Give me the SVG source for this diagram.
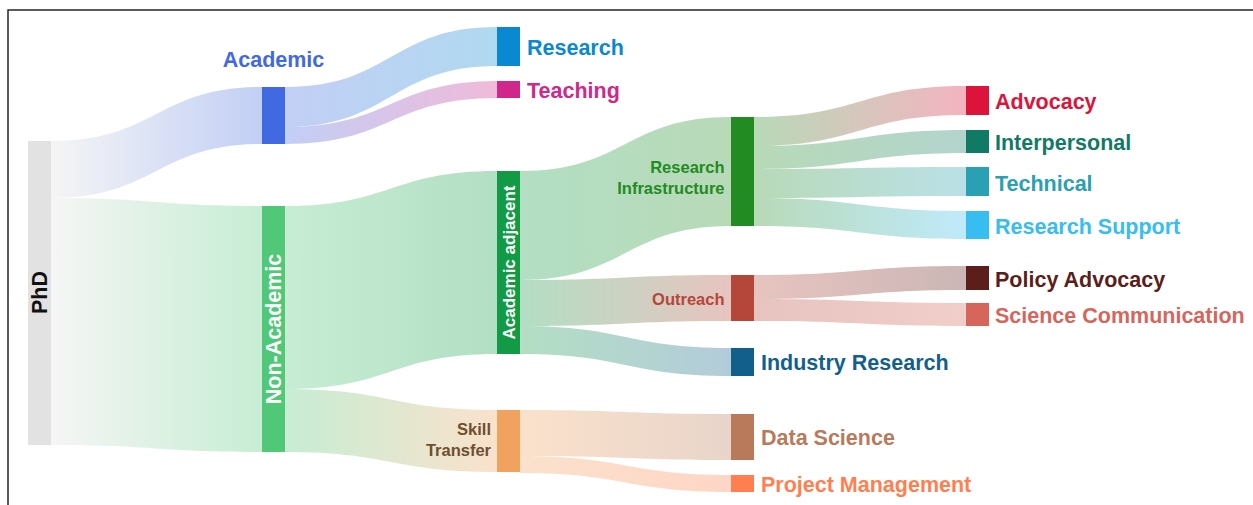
<svg xmlns="http://www.w3.org/2000/svg" width="1253" height="505" viewBox="0 0 1253 505">
<style>
.lbl{font-family:"Liberation Sans",Arial,Helvetica,sans-serif;font-weight:bold;}
.big{font-size:21.5px;}
.mid{font-size:16.5px;}
.link{fill-opacity:0.32;stroke:none;}
</style>
<defs>
<linearGradient id="g1" gradientUnits="userSpaceOnUse" x1="51" y1="0" x2="262" y2="0"><stop offset="0" stop-color="#e0e0e0"/><stop offset="1" stop-color="#4169e1"/></linearGradient>
<linearGradient id="g2" gradientUnits="userSpaceOnUse" x1="51" y1="0" x2="262" y2="0"><stop offset="0" stop-color="#e0e0e0"/><stop offset="1" stop-color="#50c878"/></linearGradient>
<linearGradient id="g3" gradientUnits="userSpaceOnUse" x1="285" y1="0" x2="497" y2="0"><stop offset="0" stop-color="#4169e1"/><stop offset="1" stop-color="#0a88d0"/></linearGradient>
<linearGradient id="g4" gradientUnits="userSpaceOnUse" x1="285" y1="0" x2="497" y2="0"><stop offset="0" stop-color="#4169e1"/><stop offset="1" stop-color="#d0288a"/></linearGradient>
<linearGradient id="g5" gradientUnits="userSpaceOnUse" x1="285" y1="0" x2="497" y2="0"><stop offset="0" stop-color="#50c878"/><stop offset="1" stop-color="#129a45"/></linearGradient>
<linearGradient id="g6" gradientUnits="userSpaceOnUse" x1="285" y1="0" x2="497" y2="0"><stop offset="0" stop-color="#50c878"/><stop offset="1" stop-color="#f0a35e"/></linearGradient>
<linearGradient id="g7" gradientUnits="userSpaceOnUse" x1="520" y1="0" x2="731" y2="0"><stop offset="0" stop-color="#129a45"/><stop offset="1" stop-color="#228b22"/></linearGradient>
<linearGradient id="g8" gradientUnits="userSpaceOnUse" x1="520" y1="0" x2="731" y2="0"><stop offset="0" stop-color="#129a45"/><stop offset="1" stop-color="#b5473a"/></linearGradient>
<linearGradient id="g9" gradientUnits="userSpaceOnUse" x1="520" y1="0" x2="731" y2="0"><stop offset="0" stop-color="#129a45"/><stop offset="1" stop-color="#135f8c"/></linearGradient>
<linearGradient id="g10" gradientUnits="userSpaceOnUse" x1="520" y1="0" x2="731" y2="0"><stop offset="0" stop-color="#f0a35e"/><stop offset="1" stop-color="#b87a5a"/></linearGradient>
<linearGradient id="g11" gradientUnits="userSpaceOnUse" x1="520" y1="0" x2="731" y2="0"><stop offset="0" stop-color="#f0a35e"/><stop offset="1" stop-color="#ff7f50"/></linearGradient>
<linearGradient id="g12" gradientUnits="userSpaceOnUse" x1="754" y1="0" x2="966" y2="0"><stop offset="0" stop-color="#228b22"/><stop offset="1" stop-color="#dc143c"/></linearGradient>
<linearGradient id="g13" gradientUnits="userSpaceOnUse" x1="754" y1="0" x2="966" y2="0"><stop offset="0" stop-color="#228b22"/><stop offset="1" stop-color="#117a65"/></linearGradient>
<linearGradient id="g14" gradientUnits="userSpaceOnUse" x1="754" y1="0" x2="966" y2="0"><stop offset="0" stop-color="#228b22"/><stop offset="1" stop-color="#2aa0b4"/></linearGradient>
<linearGradient id="g15" gradientUnits="userSpaceOnUse" x1="754" y1="0" x2="966" y2="0"><stop offset="0" stop-color="#228b22"/><stop offset="1" stop-color="#38bdf0"/></linearGradient>
<linearGradient id="g16" gradientUnits="userSpaceOnUse" x1="754" y1="0" x2="966" y2="0"><stop offset="0" stop-color="#b5473a"/><stop offset="1" stop-color="#5c1e1a"/></linearGradient>
<linearGradient id="g17" gradientUnits="userSpaceOnUse" x1="754" y1="0" x2="966" y2="0"><stop offset="0" stop-color="#b5473a"/><stop offset="1" stop-color="#d6665c"/></linearGradient>
</defs>
<rect x="0" y="0" width="1253" height="505" fill="#ffffff"/>
<rect x="8" y="10" width="1270" height="520" fill="none" stroke="#262626" stroke-width="1.5"/>
<g id="connectors">
<path class="link" fill="url(#g1)" d="M51,141 C156.5,141 156.5,87 262,87 L262,144 C156.5,144 156.5,198 51,198 Z"/>
<path class="link" fill="url(#g2)" d="M51,198 C156.5,198 156.5,206 262,206 L262,452 C156.5,452 156.5,445 51,445 Z"/>
<path class="link" fill="url(#g3)" d="M285,87 C391,87 391,27 497,27 L497,66 C391,66 391,127 285,127 Z"/>
<path class="link" fill="url(#g4)" d="M285,127 C391,127 391,81 497,81 L497,98 C391,98 391,144 285,144 Z"/>
<path class="link" fill="url(#g5)" d="M285,206 C391,206 391,171 497,171 L497,354 C391,354 391,389 285,389 Z"/>
<path class="link" fill="url(#g6)" d="M285,389 C391,389 391,410 497,410 L497,472 C391,472 391,452 285,452 Z"/>
<path class="link" fill="url(#g7)" d="M520,171 C625.5,171 625.5,117 731,117 L731,226 C625.5,226 625.5,280 520,280 Z"/>
<path class="link" fill="url(#g8)" d="M520,280 C625.5,280 625.5,275 731,275 L731,321 C625.5,321 625.5,326 520,326 Z"/>
<path class="link" fill="url(#g9)" d="M520,326 C625.5,326 625.5,348 731,348 L731,376 C625.5,376 625.5,354 520,354 Z"/>
<path class="link" fill="url(#g10)" d="M520,410 C625.5,410 625.5,414 731,414 L731,460 C625.5,460 625.5,456 520,456 Z"/>
<path class="link" fill="url(#g11)" d="M520,456 C625.5,456 625.5,475 731,475 L731,492 C625.5,492 625.5,473 520,473 Z"/>
<path class="link" fill="url(#g12)" d="M754,117 C860,117 860,86 966,86 L966,115 C860,115 860,146 754,146 Z"/>
<path class="link" fill="url(#g13)" d="M754,146 C860,146 860,130 966,130 L966,153 C860,153 860,169 754,169 Z"/>
<path class="link" fill="url(#g14)" d="M754,169 C860,169 860,167 966,167 L966,196 C860,196 860,198 754,198 Z"/>
<path class="link" fill="url(#g15)" d="M754,198 C860,198 860,211 966,211 L966,239 C860,239 860,226 754,226 Z"/>
<path class="link" fill="url(#g16)" d="M754,275 C860,275 860,266 966,266 L966,290 C860,290 860,299 754,299 Z"/>
<path class="link" fill="url(#g17)" d="M754,299 C860,299 860,303 966,303 L966,326 C860,326 860,321 754,321 Z"/>
</g>
<g id="node-phd"><rect x="28" y="141" width="23" height="304" fill="#e2e2e2"/><text class="lbl big" transform="translate(39.5,292.5) rotate(-90)" y="7.7" text-anchor="middle" fill="#111111">PhD</text></g>
<g id="node-academic"><rect x="262" y="87" width="23" height="57" fill="#4169e1"/><text class="lbl big" x="273.5" y="67" text-anchor="middle" fill="#4169e1">Academic</text></g>
<g id="node-nonacademic"><rect x="262" y="206" width="23" height="246" fill="#50c878"/><text class="lbl big" transform="translate(273.5,329) rotate(-90)" y="7.7" text-anchor="middle" fill="#ffffff">Non-Academic</text></g>
<g id="node-research"><rect x="497" y="27" width="23" height="39" fill="#0a88d0"/><text class="lbl big" x="527" y="55" fill="#0a88d0">Research</text></g>
<g id="node-teaching"><rect x="497" y="81" width="23" height="17" fill="#d0288a"/><text class="lbl big" x="527" y="98" fill="#d0288a">Teaching</text></g>
<g id="node-academic-adjacent"><rect x="497" y="171" width="23" height="183" fill="#129a45"/><text class="lbl" style="font-size:17px" transform="translate(508.5,262.5) rotate(-90)" y="6" text-anchor="middle" fill="#ffffff">Academic adjacent</text></g>
<g id="node-skill-transfer"><rect x="497" y="410" width="23" height="62" fill="#f0a35e"/><text class="lbl mid" text-anchor="end" fill="#6e4f2f"><tspan x="491" y="435">Skill</tspan><tspan x="491" y="456">Transfer</tspan></text></g>
<g id="node-research-infrastructure"><rect x="731" y="117" width="23" height="109" fill="#228b22"/><text class="lbl mid" text-anchor="end" fill="#228b22"><tspan x="724.5" y="173">Research</tspan><tspan x="724.5" y="194">Infrastructure</tspan></text></g>
<g id="node-outreach"><rect x="731" y="275" width="23" height="46" fill="#b5473a"/><text class="lbl mid" x="724.5" y="304.5" text-anchor="end" fill="#b5473a">Outreach</text></g>
<g id="node-industry-research"><rect x="731" y="348" width="23" height="28" fill="#135f8c"/><text class="lbl big" x="761" y="370" fill="#135f8c">Industry Research</text></g>
<g id="node-data-science"><rect x="731" y="414" width="23" height="46" fill="#b87a5a"/><text class="lbl big" x="761" y="445" fill="#b87a5a">Data Science</text></g>
<g id="node-project-management"><rect x="731" y="475" width="23" height="17" fill="#ff7f50"/><text class="lbl big" x="761" y="492" fill="#ff7f50">Project Management</text></g>
<g id="node-advocacy"><rect x="966" y="86" width="23" height="29" fill="#dc143c"/><text class="lbl big" x="995" y="109" fill="#dc143c">Advocacy</text></g>
<g id="node-interpersonal"><rect x="966" y="130" width="23" height="23" fill="#117a65"/><text class="lbl big" x="995" y="150" fill="#117a65">Interpersonal</text></g>
<g id="node-technical"><rect x="966" y="167" width="23" height="29" fill="#2aa0b4"/><text class="lbl big" x="995" y="190.5" fill="#2aa0b4">Technical</text></g>
<g id="node-research-support"><rect x="966" y="211" width="23" height="28" fill="#38bdf0"/><text class="lbl big" x="995" y="234" fill="#38bdf0">Research Support</text></g>
<g id="node-policy-advocacy"><rect x="966" y="266" width="23" height="24" fill="#5c1e1a"/><text class="lbl big" x="995" y="286.5" fill="#5c1e1a">Policy Advocacy</text></g>
<g id="node-science-communication"><rect x="966" y="303" width="23" height="23" fill="#d6665c"/><text class="lbl big" x="995" y="322.5" fill="#d6665c">Science Communication</text></g>
</svg>
